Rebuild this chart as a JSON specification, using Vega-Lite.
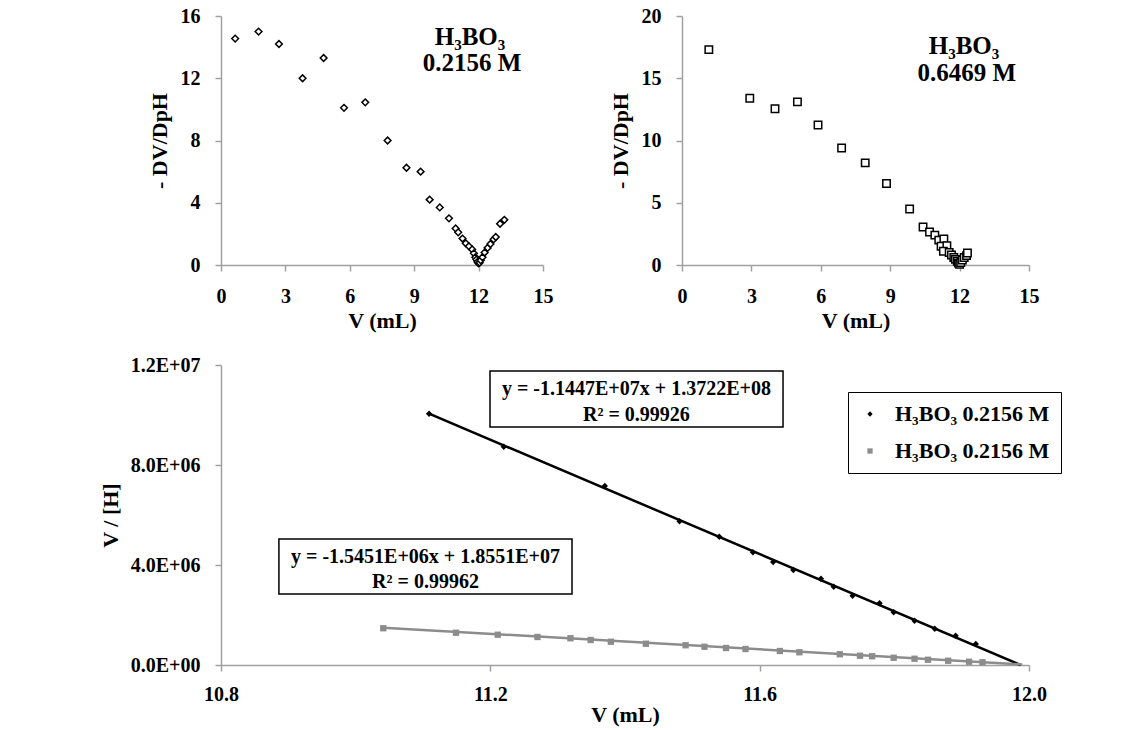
{
  "$schema": "https://vega.github.io/schema/vega-lite/v6.json",
  "background": "white",
  "padding": {"left": 99, "top": 6, "right": 5, "bottom": 2},
  "config": {
    "font": "Liberation Serif",
    "view": {"stroke": null},
    "axis": {
      "grid": false,
      "domainColor": "#a0a0a0",
      "tickColor": "#a0a0a0",
      "domainWidth": 1.5,
      "tickWidth": 1.5,
      "tickSize": 6,
      "labelFont": "Liberation Serif",
      "labelFontSize": 20,
      "labelFontWeight": "bold",
      "labelColor": "black",
      "titleFont": "Liberation Serif",
      "titleFontSize": 22,
      "titleFontWeight": "bold",
      "titleColor": "black"
    },
    "axisX": {"labelPadding": 15, "titlePadding": 4, "labelFlush": false},
    "axisY": {"labelPadding": 15, "titlePadding": 9, "labelFlush": false}
  },
  "datasets": {
    "tl": [
      {"v": 0.66, "d": 14.55}, {"v": 1.75, "d": 15.0}, {"v": 2.7, "d": 14.2}, {"v": 3.8, "d": 12.0},
      {"v": 4.78, "d": 13.3}, {"v": 5.73, "d": 10.1}, {"v": 6.72, "d": 10.45}, {"v": 7.76, "d": 8.0},
      {"v": 8.64, "d": 6.25}, {"v": 9.3, "d": 6.0}, {"v": 9.72, "d": 4.2}, {"v": 10.19, "d": 3.7},
      {"v": 10.62, "d": 3.0}, {"v": 10.93, "d": 2.35}, {"v": 11.05, "d": 2.1}, {"v": 11.25, "d": 1.7},
      {"v": 11.4, "d": 1.4}, {"v": 11.55, "d": 1.2}, {"v": 11.7, "d": 1.0}, {"v": 11.78, "d": 0.75},
      {"v": 11.85, "d": 0.5}, {"v": 11.9, "d": 0.35}, {"v": 11.95, "d": 0.2}, {"v": 12.0, "d": 0.1},
      {"v": 12.05, "d": 0.15}, {"v": 12.1, "d": 0.3}, {"v": 12.18, "d": 0.5}, {"v": 12.28, "d": 0.8},
      {"v": 12.42, "d": 1.1}, {"v": 12.55, "d": 1.35}, {"v": 12.7, "d": 1.65}, {"v": 12.8, "d": 1.8},
      {"v": 13.0, "d": 2.65}, {"v": 13.2, "d": 2.9}
    ],
    "tr": [
      {"v": 1.16, "d": 17.3}, {"v": 2.93, "d": 13.4}, {"v": 4.02, "d": 12.55}, {"v": 4.99, "d": 13.1},
      {"v": 5.88, "d": 11.25}, {"v": 6.9, "d": 9.4}, {"v": 7.92, "d": 8.2}, {"v": 8.84, "d": 6.55},
      {"v": 9.84, "d": 4.5}, {"v": 10.42, "d": 3.05}, {"v": 10.7, "d": 2.65}, {"v": 10.93, "d": 2.4},
      {"v": 11.1, "d": 2.0}, {"v": 11.32, "d": 2.1}, {"v": 11.2, "d": 1.5}, {"v": 11.45, "d": 1.55},
      {"v": 11.3, "d": 1.1}, {"v": 11.55, "d": 1.0}, {"v": 11.65, "d": 0.8}, {"v": 11.75, "d": 0.6},
      {"v": 11.82, "d": 0.45}, {"v": 11.9, "d": 0.3}, {"v": 11.95, "d": 0.15}, {"v": 12.0, "d": 0.05},
      {"v": 12.05, "d": 0.2}, {"v": 12.12, "d": 0.4}, {"v": 12.2, "d": 0.6}, {"v": 12.3, "d": 0.75},
      {"v": 12.34, "d": 0.97}
    ],
    "pts": [
      {"series": "A", "v": 11.109, "r": 10050000}, {"series": "A", "v": 11.22, "r": 8730000},
      {"series": "A", "v": 11.37, "r": 7160000}, {"series": "A", "v": 11.481, "r": 5750000},
      {"series": "A", "v": 11.54, "r": 5130000}, {"series": "A", "v": 11.59, "r": 4510000},
      {"series": "A", "v": 11.62, "r": 4120000}, {"series": "A", "v": 11.65, "r": 3800000},
      {"series": "A", "v": 11.691, "r": 3450000}, {"series": "A", "v": 11.71, "r": 3130000},
      {"series": "A", "v": 11.738, "r": 2770000}, {"series": "A", "v": 11.778, "r": 2470000},
      {"series": "A", "v": 11.799, "r": 2110000}, {"series": "A", "v": 11.83, "r": 1770000},
      {"series": "A", "v": 11.86, "r": 1450000}, {"series": "A", "v": 11.891, "r": 1170000},
      {"series": "A", "v": 11.921, "r": 840000},
      {"series": "B", "v": 11.041, "r": 1470000}, {"series": "B", "v": 11.149, "r": 1290000},
      {"series": "B", "v": 11.211, "r": 1210000}, {"series": "B", "v": 11.27, "r": 1120000},
      {"series": "B", "v": 11.319, "r": 1070000}, {"series": "B", "v": 11.349, "r": 1000000},
      {"series": "B", "v": 11.379, "r": 930000}, {"series": "B", "v": 11.431, "r": 850000},
      {"series": "B", "v": 11.49, "r": 790000}, {"series": "B", "v": 11.518, "r": 730000},
      {"series": "B", "v": 11.55, "r": 680000}, {"series": "B", "v": 11.579, "r": 640000},
      {"series": "B", "v": 11.63, "r": 560000}, {"series": "B", "v": 11.659, "r": 510000},
      {"series": "B", "v": 11.719, "r": 430000}, {"series": "B", "v": 11.749, "r": 370000},
      {"series": "B", "v": 11.767, "r": 350000}, {"series": "B", "v": 11.799, "r": 290000},
      {"series": "B", "v": 11.83, "r": 250000}, {"series": "B", "v": 11.85, "r": 210000},
      {"series": "B", "v": 11.88, "r": 170000}, {"series": "B", "v": 11.911, "r": 130000},
      {"series": "B", "v": 11.931, "r": 110000}
    ],
    "trendA": [
      {"v": 11.109, "r": 10055000}, {"v": 11.9875, "r": 0}
    ],
    "trendB": [
      {"v": 11.041, "r": 1491600}, {"v": 11.99, "r": 25000}
    ]
  },
  "bounds": "flush",
  "spacing": 349,
  "vconcat": [
    {
      "bounds": "flush",
      "spacing": 139,
      "hconcat": [
        {
          "width": 322,
          "height": 249,
          "layer": [
            {
              "data": {"name": "tl"},
              "mark": {"type": "point", "shape": "diamond", "filled": true, "fill": "white", "stroke": "black", "strokeWidth": 1.5, "size": 45, "opacity": 1},
              "encoding": {
                "x": {"field": "v", "type": "quantitative", "scale": {"domain": [0, 15], "nice": false, "zero": false}, "axis": {"values": [0, 3, 6, 9, 12, 15], "title": "V (mL)"}},
                "y": {"field": "d", "type": "quantitative", "scale": {"domain": [0, 16], "nice": false}, "axis": {"values": [0, 4, 8, 12, 16], "title": "- DV/DpH"}}
              }
            },
            {
              "data": {"values": [{}]},
              "mark": {"type": "text", "text": "H₃BO₃", "fontSize": 25, "fontWeight": "bold", "font": "Liberation Serif", "baseline": "middle", "align": "center"},
              "encoding": {"x": {"datum": 11.6, "type": "quantitative"}, "y": {"datum": 14.65, "type": "quantitative"}}
            },
            {
              "data": {"values": [{}]},
              "mark": {"type": "text", "text": "0.2156 M", "fontSize": 25, "fontWeight": "bold", "font": "Liberation Serif", "baseline": "middle", "align": "center"},
              "encoding": {"x": {"datum": 11.7, "type": "quantitative"}, "y": {"datum": 12.95, "type": "quantitative"}}
            }
          ]
        },
        {
          "width": 347,
          "height": 249,
          "layer": [
            {
              "data": {"name": "tr"},
              "mark": {"type": "point", "shape": "square", "filled": true, "fill": "white", "stroke": "black", "strokeWidth": 1.5, "size": 55, "opacity": 1},
              "encoding": {
                "x": {"field": "v", "type": "quantitative", "scale": {"domain": [0, 15], "nice": false, "zero": false}, "axis": {"values": [0, 3, 6, 9, 12, 15], "title": "V (mL)"}},
                "y": {"field": "d", "type": "quantitative", "scale": {"domain": [0, 20], "nice": false}, "axis": {"values": [0, 5, 10, 15, 20], "title": "- DV/DpH"}}
              }
            },
            {
              "data": {"values": [{}]},
              "mark": {"type": "text", "text": "H₃BO₃", "fontSize": 25, "fontWeight": "bold", "font": "Liberation Serif", "baseline": "middle", "align": "center"},
              "encoding": {"x": {"datum": 12.19, "type": "quantitative"}, "y": {"datum": 17.6, "type": "quantitative"}}
            },
            {
              "data": {"values": [{}]},
              "mark": {"type": "text", "text": "0.6469 M", "fontSize": 25, "fontWeight": "bold", "font": "Liberation Serif", "baseline": "middle", "align": "center"},
              "encoding": {"x": {"datum": 12.31, "type": "quantitative"}, "y": {"datum": 15.45, "type": "quantitative"}}
            }
          ]
        }
      ]
    },
    {
      "width": 808,
      "height": 300,
      "layer": [
        {
          "data": {"values": [{}]},
          "mark": {"type": "rect", "fill": "white", "stroke": "black", "strokeWidth": 1.5},
          "encoding": {
            "x": {"datum": 11.1995, "type": "quantitative", "scale": {"domain": [10.8, 12.0], "nice": false, "zero": false}, "axis": {"values": [10.8, 11.2, 11.6, 12.0], "format": ".1f", "title": "V (mL)", "labelPadding": 13, "titlePadding": 0}},
            "x2": {"datum": 11.6347},
            "y": {"datum": 11760000, "type": "quantitative", "scale": {"domain": [0, 12000000], "nice": false}, "axis": {"values": [0, 4000000, 8000000, 12000000], "title": "V / [H]", "titlePadding": 8, "labelExpr": "datum.value == 0 ? '0.0E+00' : (datum.value < 10000000 ? format(datum.value / 1000000, '.1f') + 'E+06' : format(datum.value / 10000000, '.1f') + 'E+07')"}},
            "y2": {"datum": 9520000}
          }
        },
        {
          "data": {"values": [{}]},
          "mark": {"type": "rect", "fill": "white", "stroke": "black", "strokeWidth": 1.5},
          "encoding": {"x": {"datum": 10.886, "type": "quantitative"}, "x2": {"datum": 11.3213}, "y": {"datum": 5040000, "type": "quantitative"}, "y2": {"datum": 2840000}}
        },
        {
          "data": {"name": "trendA"},
          "mark": {"type": "line", "strokeWidth": 2.5, "color": "black"},
          "encoding": {"x": {"field": "v", "type": "quantitative"}, "y": {"field": "r", "type": "quantitative"}}
        },
        {
          "data": {"name": "trendB"},
          "mark": {"type": "line", "strokeWidth": 2.5, "color": "#8c8c8c"},
          "encoding": {"x": {"field": "v", "type": "quantitative"}, "y": {"field": "r", "type": "quantitative"}}
        },
        {
          "data": {"name": "pts"},
          "mark": {"type": "point", "filled": true, "size": 40, "opacity": 1},
          "encoding": {
            "x": {"field": "v", "type": "quantitative"},
            "y": {"field": "r", "type": "quantitative"},
            "color": {"field": "series", "type": "nominal", "scale": {"domain": ["A", "B"], "range": ["black", "#8c8c8c"]},
              "legend": {"title": null, "orient": "none", "legendX": 627, "legendY": 376, "strokeColor": "black", "padding": 11, "fillColor": "white", "labelFont": "Liberation Serif", "labelFontSize": 22, "labelFontWeight": "bold", "labelColor": "black", "rowPadding": 15, "symbolSize": 28, "labelOffset": 14, "labelExpr": "'H₃BO₃ 0.2156 M'"}},
            "shape": {"field": "series", "type": "nominal", "scale": {"domain": ["A", "B"], "range": ["diamond", "square"]},
              "legend": {"title": null, "orient": "none", "legendX": 627, "legendY": 376, "strokeColor": "black", "padding": 11, "fillColor": "white", "labelFont": "Liberation Serif", "labelFontSize": 22, "labelFontWeight": "bold", "labelColor": "black", "rowPadding": 15, "symbolSize": 28, "labelOffset": 14, "labelExpr": "'H₃BO₃ 0.2156 M'"}}
          }
        },
        {
          "data": {"values": [{}]},
          "mark": {"type": "text", "text": "y = -1.1447E+07x + 1.3722E+08", "fontSize": 20, "fontWeight": "bold", "font": "Liberation Serif", "baseline": "middle", "align": "center"},
          "encoding": {"x": {"datum": 11.417, "type": "quantitative"}, "y": {"datum": 11040000, "type": "quantitative"}}
        },
        {
          "data": {"values": [{}]},
          "mark": {"type": "text", "text": "R² = 0.99926", "fontSize": 20, "fontWeight": "bold", "font": "Liberation Serif", "baseline": "middle", "align": "center"},
          "encoding": {"x": {"datum": 11.417, "type": "quantitative"}, "y": {"datum": 10000000, "type": "quantitative"}}
        },
        {
          "data": {"values": [{}]},
          "mark": {"type": "text", "text": "y = -1.5451E+06x + 1.8551E+07", "fontSize": 20, "fontWeight": "bold", "font": "Liberation Serif", "baseline": "middle", "align": "center"},
          "encoding": {"x": {"datum": 11.1037, "type": "quantitative"}, "y": {"datum": 4320000, "type": "quantitative"}}
        },
        {
          "data": {"values": [{}]},
          "mark": {"type": "text", "text": "R² = 0.99962", "fontSize": 20, "fontWeight": "bold", "font": "Liberation Serif", "baseline": "middle", "align": "center"},
          "encoding": {"x": {"datum": 11.1037, "type": "quantitative"}, "y": {"datum": 3320000, "type": "quantitative"}}
        }
      ]
    }
  ]
}
